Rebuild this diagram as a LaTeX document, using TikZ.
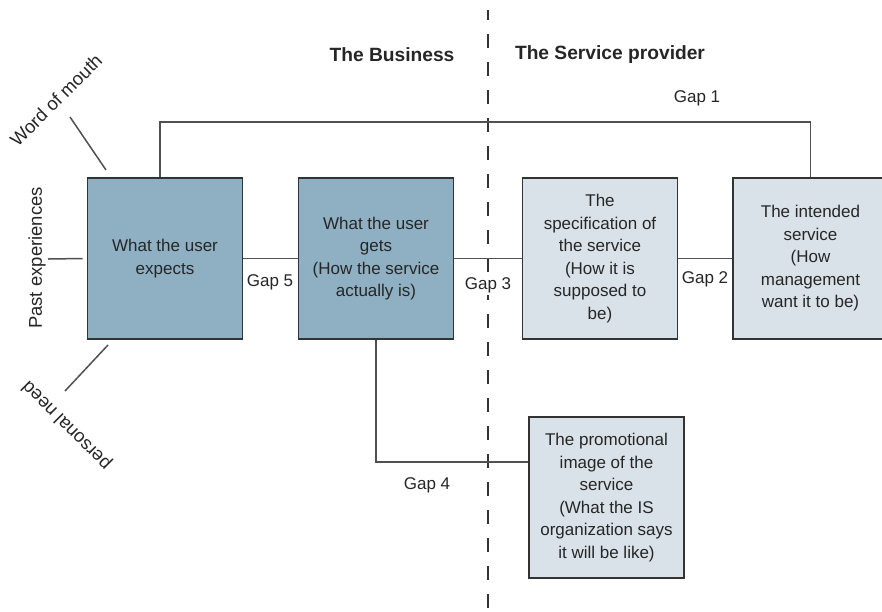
\documentclass[tikz,border=0pt]{standalone}
\usepackage{fontspec}
\setmainfont{Liberation Sans}
\definecolor{userfill}{HTML}{8FB0C2}
\definecolor{provfill}{HTML}{D9E2E8}
\definecolor{boxline}{HTML}{333333}
\definecolor{linkc}{HTML}{505050}
\definecolor{txt}{HTML}{262626}
\begin{document}
\begin{tikzpicture}[x=1pt,y=-1pt,
  box/.style={draw=boxline, line width=1.7pt, minimum width=155pt, minimum height=161pt,
    align=center, font=\fontsize{17}{22.5}\selectfont, text=txt, inner sep=0pt},
  userbox/.style={box, fill=userfill},
  provbox/.style={box, fill=provfill},
  link/.style={draw=linkc, line width=1.5pt},
  divider/.style={draw=boxline, line width=2.6pt, dash pattern=on 14pt off 14pt, dash phase=4pt},
  lbl/.style={font=\fontsize{17}{20}\selectfont, text=txt, inner sep=0pt},
  side/.style={font=\fontsize{18.5}{22}\selectfont, text=txt, inner sep=0pt},
  head/.style={font=\bfseries\fontsize{19.2}{23}\selectfont, text=txt, inner sep=0pt}]
\useasboundingbox (0,0) rectangle (882,611);
\clip (0,0) rectangle (882,611);

% boundary between the two parties
\coordinate (divtop) at (488,10);
\coordinate (divbot) at (488,611);
\draw[divider] (divtop) -- (divbot);

% headings
\node[head] (business) at (392,55) {The Business};
\node[head] (provider) at (610,55) {The Service provider};

% boxes
\node[userbox] (expects) at (165,258.5) {What the user\\expects};
\node[userbox] (gets) at (376,258.5) {What the user\\gets\\(How the service\\actually is)};
\node[provbox] (spec) at (600,258.5) {The\\specification of\\the service\\(How it is\\supposed to\\be)};
\node[provbox] (intended) at (810.5,258.5) {The intended\\service\\(How\\management\\want it to be)};
\node[provbox] (promo) at (606.5,497.5) {The promotional\\image of the\\service\\(What the IS\\organization says\\it will be like)};

% gap connectors
\draw[link] ([xshift=-5pt]expects.north) -- ++(0,-55) -| (intended.north);
\draw[link] (expects.east) -- (gets.west);
\draw[link] (gets.east) -- (spec.west);
\draw[link] (spec.east) -- (intended.west);
\draw[link] (gets.south) |- ([yshift=35.5pt]promo.west);

% influences on expectations
\coordinate (wom) at (70,117);
\coordinate (womend) at (106,170);
\coordinate (pe) at (48,259);
\coordinate (pn) at (65,391);
\coordinate (pnend) at (108,345);
\draw[link] (wom) -- (womend);
\draw[link] (pe) -- ([xshift=-4pt]expects.west);
\draw[link] (pn) -- (pnend);

\node[side, rotate=45] (wordofmouth) at (56,100) {Word of mouth};
\node[side, rotate=90] (pastexp) at (37,258) {Past experiences};
\node[side, rotate=135] (personal) at (67,425) {personal need};

% gap labels
\node[lbl] (gap1) at (697,98) {Gap 1};
\node[lbl] (gap2) at (705,279) {Gap 2};
\node[lbl, fill=white, inner sep=2pt] (gap3) at (488,285) {Gap 3};
\node[lbl] (gap4) at (427,485) {Gap 4};
\node[lbl] (gap5) at (270,282) {Gap 5};
\end{tikzpicture}
\end{document}
